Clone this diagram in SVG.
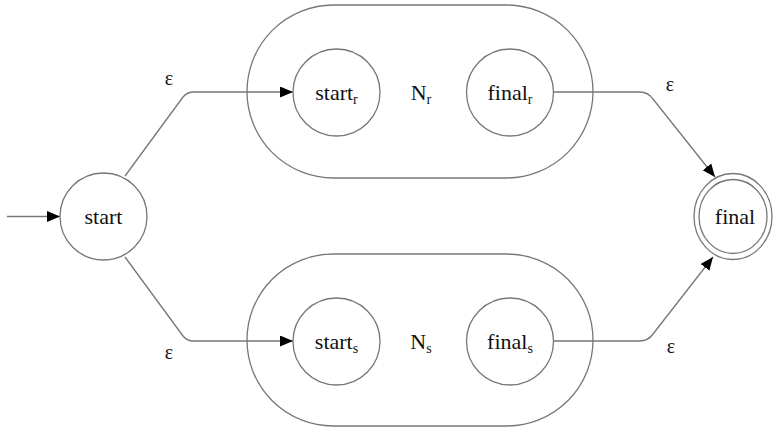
<svg xmlns="http://www.w3.org/2000/svg" width="774" height="427" viewBox="0 0 774 427">
  <style>
    .shape { fill: #ffffff; stroke: #777777; stroke-width: 1.3; }
    .edge { fill: none; stroke: #777777; stroke-width: 1.3; }
    text { font-family: 'Liberation Serif', 'DejaVu Serif', serif; fill: #111111; text-anchor: middle; }
    .lbl { font-size: 22px; }
    .sub { font-size: 14px; }
    .eps { font-size: 20px; }
  </style>
  <defs>
    <marker id="arrow" markerUnits="userSpaceOnUse" markerWidth="14" markerHeight="12" refX="13" refY="5.5" orient="auto">
      <path d="M0,0 L13,5.5 L0,11 z" fill="#000000"/>
    </marker>
  </defs>
  <rect width="774" height="427" fill="#ffffff"/>

  <g id="Nr">
    <rect class="shape" x="247" y="5" width="346" height="173" rx="86.5" ry="86.5"/>
    <text class="lbl" x="421" y="100">N<tspan class="sub" dy="4">r</tspan></text>
  </g>
  <g id="Ns">
    <rect class="shape" x="247" y="254" width="346" height="172" rx="86" ry="86"/>
    <text class="lbl" x="421" y="349">N<tspan class="sub" dy="4">s</tspan></text>
  </g>

  <g id="connectors">
    <path class="edge" d="M7,216.5 L60,216.5" marker-end="url(#arrow)"/>
    <path class="edge" d="M125,176 L183,97 Q187,92 194,92 L293,92" marker-end="url(#arrow)"/>
    <path class="edge" d="M125,257 L183,336 Q187,341 194,341 L293,341" marker-end="url(#arrow)"/>
    <path class="edge" d="M553,92 L640,92 Q648,92 653,99 L715,177" marker-end="url(#arrow)"/>
    <path class="edge" d="M553,341 L640,341 Q648,341 653,334 L713,257" marker-end="url(#arrow)"/>
    <text class="eps" x="169" y="85">ε</text>
    <text class="eps" x="169" y="359">ε</text>
    <text class="eps" x="670" y="91">ε</text>
    <text class="eps" x="671" y="353">ε</text>
  </g>

  <g id="start">
    <circle class="shape" cx="103.5" cy="216.5" r="43.5"/>
    <text class="lbl" x="103.5" y="224">start</text>
  </g>
  <g id="start_r">
    <circle class="shape" cx="336.5" cy="92.5" r="43.5"/>
    <text class="lbl" x="336.5" y="100">start<tspan class="sub" dy="4">r</tspan></text>
  </g>
  <g id="final_r">
    <circle class="shape" cx="510" cy="92.5" r="43.5"/>
    <text class="lbl" x="510" y="100">final<tspan class="sub" dy="4">r</tspan></text>
  </g>
  <g id="start_s">
    <circle class="shape" cx="336.5" cy="341.5" r="43.5"/>
    <text class="lbl" x="336.5" y="349">start<tspan class="sub" dy="4">s</tspan></text>
  </g>
  <g id="final_s">
    <circle class="shape" cx="510" cy="341.5" r="43.5"/>
    <text class="lbl" x="510" y="349">final<tspan class="sub" dy="4">s</tspan></text>
  </g>
  <g id="final">
    <ellipse class="shape" cx="733" cy="216.5" rx="39" ry="43"/>
    <ellipse class="shape" cx="733" cy="216.5" rx="34" ry="37"/>
    <text class="lbl" x="735" y="224">final</text>
  </g>
</svg>
